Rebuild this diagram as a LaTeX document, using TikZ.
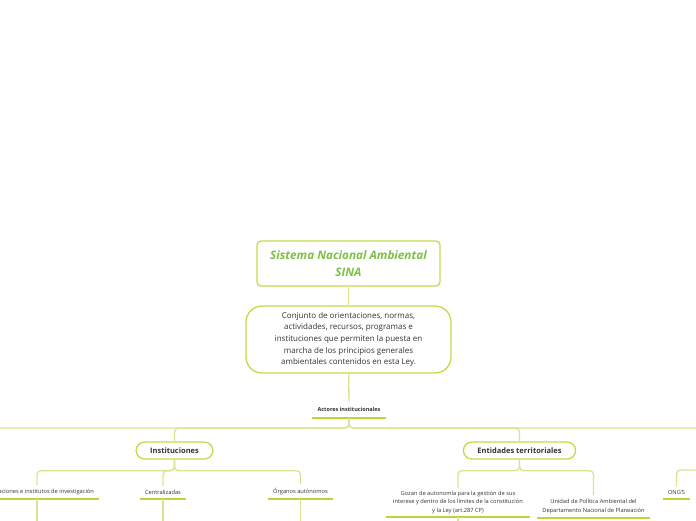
\documentclass[tikz,border=0pt]{standalone}
\usepackage{fontspec}
\setmainfont{Open Sans}
\usetikzlibrary{positioning}
\definecolor{sinagreen}{HTML}{7CC142}
\definecolor{boxline}{HTML}{C5D94A}
\definecolor{connline}{HTML}{D8E58F}
\definecolor{uline}{HTML}{BDD43C}
\definecolor{bodytext}{HTML}{333333}
\begin{document}
\begin{tikzpicture}[x=1pt,y=-1pt,
	conn/.style={draw=connline,line width=1.3pt,rounded corners=4pt},
	mainbox/.style={draw=boxline,line width=1.3pt,fill=white,align=center},
	branchbox/.style={draw=boxline,line width=1.3pt,fill=white,rounded corners=8.5pt,
		minimum height=17pt,inner xsep=14pt,font=\fontsize{7.5}{9}\selectfont\bfseries,text=bodytext},
	leaf/.style={align=center,inner xsep=5pt,inner ysep=4pt,anchor=south,text=bodytext,
		font=\fontsize{5.7}{8.5}\selectfont},
	under/.style={draw=uline,line width=1.6pt}]
	\clip (0,0) rectangle (696,520);
	% tronco
	\node[mainbox,rounded corners=4pt,minimum width=183pt,minimum height=45pt,text=sinagreen,
		font=\fontsize{11.7}{17}\selectfont\bfseries\itshape] (sina) at (348.5,263.5)
		{Sistema Nacional Ambiental\\SINA};
	\node[mainbox,rounded corners=16pt,minimum width=205pt,minimum height=67pt,text=bodytext,
		font=\fontsize{8}{11.7}\selectfont] (conj) at (348.5,339.5)
		{Conjunto de orientaciones, normas,\\actividades, recursos, programas e\\instituciones que permiten la puesta en\\marcha de los principios generales\\ambientales contenidos en esta Ley.};
	\node[leaf,inner ysep=6pt,font=\fontsize{5.5}{8.5}\selectfont\bfseries] (actores) at (349,418) {Actores institucionales};
	\draw[under] (actores.south west) -- (actores.south east);
	\path[conn] (sina) edge (conj) (conj) edge (actores);
	% ramas principales
	\node[branchbox] (inst) at (174.5,450.5) {Instituciones};
	\node[branchbox] (ent) at (519.5,450.5) {Entidades territoriales};
	\coordinate (offL) at (-80,442);
	\coordinate (offR) at (790,442);
	\coordinate (ongpar) at (760,459);
	\draw[conn] (actores.south) -- ++(0,10) -| (inst.north);
	\draw[conn] (actores.south) -- ++(0,10) -| (ent.north);
	\draw[conn] (actores.south) -- ++(0,10) -| (offL);
	\draw[conn] (actores.south) -- ++(0,10) -| (offR);
	% hojas
	\node[leaf] (corp) at (37,499) {Corporaciones e institutos de investigación};
	\node[leaf] (centr) at (163,499) {Centralizadas};
	\node[leaf] (organ) at (300.5,499) {Órganos autónomos};
	\node[leaf,minimum width=144pt,inner ysep=3pt] (gozan) at (458,517) {Gozan de autonomía para la gestión de sus\\interese y dentro de los límites de la constitución\\y la Ley (art.287 CP)};
	\node[leaf] (unidad) at (593.5,518) {Unidad de Política Ambiental del\\Departamento Nacional de Planeación};
	\node[leaf] (ongs) at (676.5,499) {ONG'S};
	\foreach \n in {corp,centr,organ,gozan,unidad,ongs}
		\draw[under] (\n.south west) -- (\n.south east);
	\foreach \n in {corp,centr,organ}
		\draw[conn] (inst.south) -- ++(0,11) -| (\n.north);
	\foreach \n in {gozan,unidad}
		\draw[conn] (ent.south) -- ++(0,11) -| (\n.north);
	\draw[conn] (ongpar) -- ++(0,11) -| (ongs.north);
	% continuan hacia abajo
	\coordinate (corpdown) at (37,540);
	\coordinate (centrdown) at (163,540);
	\coordinate (organdown) at (300.5,540);
	\coordinate (gozandown) at (458,540);
	\draw[conn] (corp.south) -- (corpdown);
	\draw[conn] (centr.south) -- (centrdown);
	\draw[conn] (organ.south) -- (organdown);
	\draw[conn] (gozan.south) -- (gozandown);
\end{tikzpicture}
\end{document}
